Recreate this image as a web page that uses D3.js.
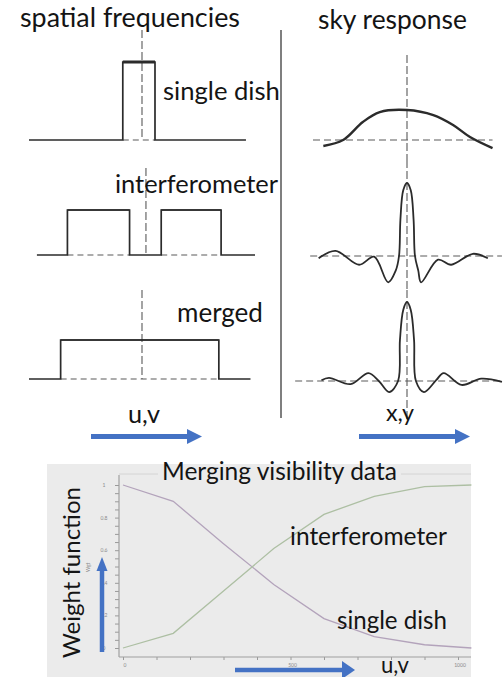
<!DOCTYPE html>
<html>
<head>
<meta charset="utf-8">
<script src="https://cdn.jsdelivr.net/npm/d3@7/dist/d3.min.js"></script>
<style>
  body { margin: 0; background: #fff; }
  text { font-family: Lato, "Open Sans", sans-serif; fill: #141414; }
</style>
</head>
<body>
<svg class="chart"></svg>
<script>
// spatial frequency coverage (u units, box = [from, to])
var singleDishSpan = [-10, 9.2];
var singleDishBoxes = [[-1.7, 1.15]];
var interfSpan = [-9.3, 10];
var interfBoxes = [[-6.6, -1.1], [1.7, 7.0]];
var mergedSpan = [-10, 9.6];
var mergedBoxes = [[-7.2, 6.8]];

// sky response curves [offset, relative response]
var skySingle = [[-8.9, -0.2], [-6.8, 0], [-4.7, 0.6], [-2.9, 0.93], [0, 1], [2.8, 0.83], [4.9, 0.5], [6.7, 0.1], [9.1, -0.27]];
var skyInterf = [[-9.4, -0.03], [-7.6, 0.07], [-5.1, -0.12], [-3.5, -0.01], [-2.0, -0.36], [-1.2, -0.2], [-0.85, 0], [-0.7, 0.5],
  [-0.4, 0.9], [0, 1], [0.4, 0.9], [0.7, 0.5], [0.85, 0], [1.2, -0.2], [1.5, -0.36], [3.3, -0.05], [4.7, -0.12], [7.0, 0.03], [8.6, -0.03]];
var skyMerged = [[-9.1, 0.01], [-8.3, 0.04], [-6.0, -0.04], [-4.1, 0.1], [-3.0, 0], [-1.9, -0.14], [-0.95, 0], [-0.75, 0.52],
  [-0.4, 0.9], [0, 1], [0.4, 0.9], [0.75, 0.52], [0.95, 0], [1.8, -0.14], [3.1, 0.01], [3.9, 0.1], [5.8, -0.05], [7.9, 0.03], [10.1, -0.01]];

// weight functions vs u,v distance
var uvDist = [0, 150, 300, 450, 600, 750, 900, 1040];
var wSingle = [1.0, 0.90, 0.64, 0.39, 0.18, 0.07, 0.02, 0.0];
var wInterf = [0.0, 0.09, 0.35, 0.61, 0.82, 0.93, 0.99, 1.0];
var yTicks = [0, 0.2, 0.4, 0.6, 0.8, 1];
var xTickLabels = [0, 500, 1000];

var ui = {
  ink: '#2b2b2b',
  dash: '#5a5a5a',
  blue: '#4472c4',
  bg: '#ebebeb',
  single: '#b3a3bb',
  interf: '#adbfa3'
}

var chart = d3.select(".chart")
  .attr("width", 504)
  .attr("height", 677);

function fit(t, width) {
  var len = t.node().getComputedTextLength();
  t.attr("font-size", parseFloat(t.attr("font-size")) * width / len);
  return t;
}
function label(txt, x, y, w, size) {
  return fit(chart.append("text").attr("x", x).attr("y", y).attr("font-size", size || 20).text(txt), w);
}
function dashed(x1, y1, x2, y2, pat) {
  chart.append("line").attr("x1", x1).attr("y1", y1).attr("x2", x2).attr("y2", y2)
    .attr("stroke", ui.dash).attr("stroke-width", 1.1).attr("stroke-dasharray", pat || "6,4");
}
function arrow(x1, y1, x2, y2, w, hl, hw) {
  var a = Math.atan2(y2 - y1, x2 - x1), c = Math.cos(a), s = Math.sin(a);
  var bx = x2 - c * hl, by = y2 - s * hl;
  chart.append("line").attr("x1", x1).attr("y1", y1).attr("x2", bx).attr("y2", by)
    .attr("stroke", ui.blue).attr("stroke-width", w);
  chart.append("polygon")
    .attr("points", [[x2, y2], [bx - s * hw, by + c * hw], [bx + s * hw, by - c * hw]].join(" "))
    .attr("fill", ui.blue);
}

// ---- left column: spatial frequencies
var uX = d3.scaleLinear().domain([-10, 10]).range([29, 255]);
var rows = [
  { span: singleDishSpan, boxes: singleDishBoxes, y: d3.scaleLinear().domain([0, 1]).range([140, 62]), vy: [30, 140], top: 3 },
  { span: interfSpan, boxes: interfBoxes, y: d3.scaleLinear().domain([0, 1]).range([255, 210]), vy: [168, 255], top: 1.6 },
  { span: mergedSpan, boxes: mergedBoxes, y: d3.scaleLinear().domain([0, 1]).range([379, 340]), vy: [290, 379], top: 1.6 }
];

rows.forEach(function(r, i) {
  var pts = [[r.span[0], 0]];
  r.boxes.forEach(function(b) {
    pts.push([b[0], 0], [b[0], 1], [b[1], 1], [b[1], 0]);
    dashed(uX(b[0]), r.y(0), uX(b[1]), r.y(0), "6,4");
  });
  pts.push([r.span[1], 0]);
  var cx = i == 1 ? uX(0.35) : uX(0);
  dashed(cx, r.vy[0], cx, r.vy[1], "8,3");
  chart.append("path")
    .attr("d", d3.line().x(function(d) { return uX(d[0]) }).y(function(d) { return r.y(d[1]) })(pts))
    .attr("fill", "none").attr("stroke", ui.ink).attr("stroke-width", 1.7);
  r.boxes.forEach(function(b) {
    chart.append("line").attr("x1", uX(b[0])).attr("x2", uX(b[1])).attr("y1", r.y(1)).attr("y2", r.y(1))
      .attr("stroke", ui.ink).attr("stroke-width", r.top);
  });
});

// divider
chart.append("line").attr("x1", 281).attr("x2", 281).attr("y1", 30).attr("y2", 418)
  .attr("stroke", "#555").attr("stroke-width", 1.5);

// ---- right column: sky response
var sX = d3.scaleLinear().domain([-10, 10]).range([313, 501]);
var sky = [
  { data: skySingle, y: d3.scaleLinear().domain([0, 1]).range([140, 110]), h: [-10, 9.1], vy: [55, 160], w: 2.4 },
  { data: skyInterf, y: d3.scaleLinear().domain([0, 1]).range([256, 183]), h: [-10.3, 10.1], vy: [160, 290], w: 1.8 },
  { data: skyMerged, y: d3.scaleLinear().domain([0, 1]).range([381, 302]), h: [-11.9, 10.3], vy: [290, 422], w: 1.8 }
];
sky.forEach(function(p) {
  dashed(sX(p.h[0]), p.y(0), sX(p.h[1]), p.y(0), "7,4");
  dashed(sX(0), p.vy[0], sX(0), p.vy[1], "8,3");
  chart.append("path")
    .attr("d", d3.line().curve(d3.curveCatmullRom.alpha(0.5))
      .x(function(d) { return sX(d[0]) }).y(function(d) { return p.y(d[1]) })(p.data))
    .attr("fill", "none").attr("stroke", ui.ink).attr("stroke-width", p.w);
});

label("spatial frequencies", 20, 27, 220, 22);
label("sky response", 318, 29, 149, 22);
label("single dish", 163, 100, 117, 22);
label("interferometer", 115, 193, 163, 22);
label("merged", 177, 322, 86, 22);
label("u,v", 128, 423, 32, 20);
label("x,y", 386, 421, 28, 20);
arrow(91, 436.5, 202, 436.5, 5, 15, 7.5);
arrow(359, 436.5, 470, 436.5, 5, 15, 7.5);

// ---- bottom: merging weights
var bx = d3.scaleLinear().domain([0, 1000]).range([123, 458]);
var by = d3.scaleLinear().domain([0, 1]).range([648, 485]);

chart.append("rect").attr("x", 47).attr("y", 464).attr("width", 424).attr("height", 213).attr("fill", ui.bg);
chart.append("line").attr("x1", 119).attr("x2", 471).attr("y1", 474).attr("y2", 474).attr("stroke", "#d4d4d4");

var yAxis = chart.append("g").attr("transform", "translate(119,0)")
  .call(d3.axisLeft(by).tickValues(d3.range(0, 1.001, 0.05)).tickSize(4).tickFormat(""));
yAxis.select(".domain").remove();
yAxis.selectAll("line").attr("stroke", "#9a9a9a");
chart.selectAll(".ylab").data(yTicks).enter().append("text")
  .attr("x", 104).attr("y", function(d) { return by(d) + 2 })
  .attr("text-anchor", "middle").attr("font-size", 5).style("fill", "#8a8a8a")
  .text(function(d) { return d });

var xAxis = chart.append("g").attr("transform", "translate(0,657)")
  .call(d3.axisBottom(bx).tickValues(d3.range(0, 1001, 100)).tickSize(3).tickFormat(""));
xAxis.select(".domain").remove();
xAxis.selectAll("line").attr("stroke", "#9a9a9a");
chart.selectAll(".xlab").data(xTickLabels).enter().append("text")
  .attr("x", function(d) { return bx(d) + 2 }).attr("y", 667)
  .attr("text-anchor", "middle").attr("font-size", 5).style("fill", "#8a8a8a")
  .text(function(d) { return d });

chart.append("line").attr("x1", 119).attr("x2", 119).attr("y1", 475).attr("y2", 657).attr("stroke", "#a0a0a0").attr("stroke-width", 1.2);
chart.append("line").attr("x1", 119).attr("x2", 471).attr("y1", 657).attr("y2", 657).attr("stroke", "#a0a0a0").attr("stroke-width", 1.2);

var wLine = d3.line().x(function(d, i) { return bx(uvDist[i]) }).y(function(d) { return by(d) });
chart.append("path").attr("d", wLine(wSingle)).attr("fill", "none").attr("stroke", ui.single).attr("stroke-width", 1.3);
chart.append("path").attr("d", wLine(wInterf)).attr("fill", "none").attr("stroke", ui.interf).attr("stroke-width", 1.3);

chart.append("rect").attr("x", 158).attr("y", 464).attr("width", 243).attr("height", 20).attr("fill", ui.bg);
label("Merging visibility data", 162, 480, 235, 20);
label("interferometer", 290, 545, 157, 20);
label("single dish", 337, 629, 110, 20);
fit(chart.append("text").attr("transform", "translate(80,658) rotate(-90)").attr("font-size", 22).text("Weight function"), 171);
chart.append("text").attr("transform", "translate(90,572) rotate(-90)").attr("font-size", 5).style("fill", "#8a8a8a").text("Wgt");
arrow(102, 652, 102, 557, 4.5, 14, 5.5);
arrow(235, 670, 355, 670, 4.5, 13, 9);
label("u,v", 381, 673, 28, 18);
</script>
</body>
</html>
